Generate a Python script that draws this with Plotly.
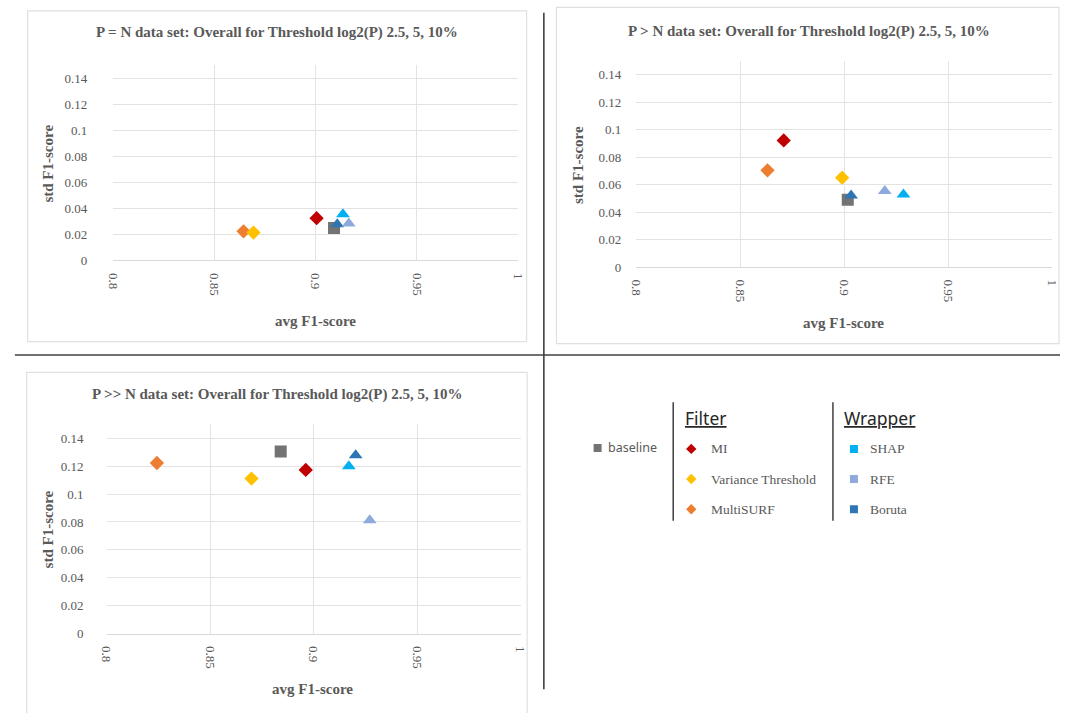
import plotly.graph_objects as go

W, H = 1068, 713

# Methods, styled as series
methods = ["baseline", "MI", "Variance Threshold", "MultiSURF", "SHAP", "RFE", "Boruta"]
colors = ["#737373", "#C00000", "#FFC000", "#ED7D31", "#00B0F0", "#8EA9DB", "#2E75B6"]
symbols = ["square", "diamond", "diamond", "diamond", "triangle-up", "triangle-up", "triangle-up"]
sizes = [12, 11, 11, 11, 12, 12, 12]
draw_order = [0, 3, 2, 1, 6, 4, 5]

# P = N data set
pn_avg = [0.9091, 0.9005, 0.8693, 0.8644, 0.9135, 0.9164, 0.9107]
pn_std = [0.0248, 0.0324, 0.0213, 0.0223, 0.0354, 0.0283, 0.0278]
# P > N data set
pgn_avg = [0.9017, 0.8709, 0.8990, 0.8631, 0.9285, 0.9195, 0.9033]
pgn_std = [0.0490, 0.0922, 0.0651, 0.0704, 0.0528, 0.0553, 0.0521]
# P >> N data set
pggn_avg = [0.8841, 0.8962, 0.8700, 0.8243, 0.9170, 0.9271, 0.9203]
pggn_std = [0.1305, 0.1173, 0.1111, 0.1223, 0.1199, 0.0813, 0.1279]

titles = [
    "P = N data set: Overall for Threshold log2(P) 2.5, 5, 10%",
    "P > N data set: Overall for Threshold log2(P) 2.5, 5, 10%",
    "P >> N data set: Overall for Threshold log2(P) 2.5, 5, 10%",
]
x_title = "avg F1-score"
y_title = "std F1-score"

x_ticks = [0.8, 0.85, 0.9, 0.95, 1.0]
x_tick_labels = ["0.8", "0.85", "0.9", "0.95", "1"]
y_ticks = [0, 0.02, 0.04, 0.06, 0.08, 0.10, 0.12, 0.14]
y_tick_labels = ["0", "0.02", "0.04", "0.06", "0.08", "0.1", "0.12", "0.14"]

filter_items = ["MI", "Variance Threshold", "MultiSURF"]
wrapper_items = ["SHAP", "RFE", "Boruta"]

# Panel layout in pixels: plot box (left, right, bottom, top), frame, title and axis-title anchors
panels = [
    dict(avg=pn_avg, std=pn_std, box=(107.7, 518.3, 263.3, 65.8), frame=(21, 11, 527, 345.5),
         title=(274, 33), xt=(313, 325), yt=(42, 165), ystand=25),
    dict(avg=pgn_avg, std=pgn_std, box=(638.3, 1060, 270, 61.8), frame=(557.3, 7.5, 1067, 347.5),
         title=(813, 32), xt=(848, 327), yt=(579, 167), ystand=14),
    dict(avg=pggn_avg, std=pggn_std, box=(101, 521, 640.7, 429.2), frame=(20, 376.7, 527.5, 725),
         title=(274, 399), xt=(310, 697), yt=(42, 535), ystand=22),
]

SERIF = "Liberation Serif, Times New Roman, serif"
SANS = "Noto Sans"
GREY = "#595959"


def px(x):
    return x / W


def py(y):
    return 1 - y / H


def label(text, x, y, size, family, color=GREY, xanchor="center", angle=0):
    return dict(text=text, x=px(x), y=py(y), xref="paper", yref="paper", showarrow=False,
                xanchor=xanchor, yanchor="middle", textangle=angle,
                font=dict(family=family, size=size, color=color))


fig = go.Figure()
annotations = []
shapes = []

for k, p in enumerate(panels):
    n = "" if k == 0 else str(k + 1)
    xa, ya = "x" + n, "y" + n
    for i in draw_order:
        fig.add_trace(go.Scatter(
            x=[p["avg"][i]], y=[p["std"][i]], mode="markers", name=methods[i],
            xaxis=xa, yaxis=ya, showlegend=False,
            marker=dict(symbol=symbols[i], size=sizes[i], color=colors[i], line=dict(width=0)),
        ))
    l, r, b, t = p["box"]
    common = dict(showgrid=True, gridcolor="#e3e3e3", gridwidth=1, zeroline=False,
                  tickfont=dict(family=SERIF, size=13, color=GREY), ticks="")
    fig.update_layout(**{
        "xaxis" + n: dict(domain=[px(l), px(r)], range=[0.8, 1.0], tickvals=x_ticks,
                          ticktext=x_tick_labels, tickangle=90, anchor=ya,
                          showline=True, linecolor="#d9d9d9", ticklabelstandoff=9, **common),
        "yaxis" + n: dict(domain=[py(b), py(t)], range=[0, 0.15], tickvals=y_ticks,
                          ticktext=y_tick_labels, anchor=xa, showline=False,
                          ticklabelstandoff=p["ystand"], **common),
    })
    fx0, fy0, fx1, fy1 = p["frame"]
    shapes.append(dict(type="rect", xref="paper", yref="paper", x0=px(fx0), x1=px(fx1),
                       y0=py(fy1), y1=py(fy0), line=dict(color="#e0e0e0", width=1.2),
                       layer="below"))
    annotations.append(label("<b>%s</b>" % titles[k], *p["title"], 15, SERIF))
    annotations.append(label("<b>%s</b>" % x_title, *p["xt"], 15, SERIF))
    annotations.append(label("<b>%s</b>" % y_title, *p["yt"], 15, SERIF, angle=-90))

# Quadrant separators
shapes.append(dict(type="line", xref="paper", yref="paper", x0=px(8), x1=px(1068),
                   y0=py(359), y1=py(359), line=dict(color="#404040", width=1.6)))
shapes.append(dict(type="line", xref="paper", yref="paper", x0=px(544.5), x1=px(544.5),
                   y0=py(13), y1=py(697), line=dict(color="#404040", width=1.6)))

# Legend block (pixel axis overlaying the page)
row_y = [454, 484.5, 515]
legend_x, legend_y, legend_c, legend_s = [599], [453], [colors[0]], ["square"]
annotations.append(label("baseline", 608, 453, 12.5, SANS, xanchor="left"))
for j, name in enumerate(filter_items):
    idx = methods.index(name)
    legend_x.append(694); legend_y.append(row_y[j]); legend_c.append(colors[idx]); legend_s.append("diamond")
    annotations.append(label(name, 712, row_y[j], 13.5, SERIF, xanchor="left"))
for j, name in enumerate(wrapper_items):
    idx = methods.index(name)
    legend_x.append(859); legend_y.append(row_y[j]); legend_c.append(colors[idx]); legend_s.append("square")
    annotations.append(label(name, 873, row_y[j], 13.5, SERIF, xanchor="left"))

fig.add_trace(go.Scatter(
    x=legend_x, y=legend_y, mode="markers", xaxis="x4", yaxis="y4", showlegend=False,
    hoverinfo="skip",
    marker=dict(symbol=legend_s, size=[8, 8, 8, 8, 8, 8, 8], color=legend_c, opacity=1,
                line=dict(width=0)),
))
fig.update_layout(
    xaxis4=dict(domain=[px(560), px(1060)], range=[560, 1060], visible=False, anchor="y4"),
    yaxis4=dict(domain=[py(540), py(400)], range=[540, 400], visible=False, anchor="x4"),
)

annotations.append(label("<u>Filter</u>", 686, 423, 17.5, SANS, color="#262626", xanchor="left"))
annotations.append(label("<u>Wrapper</u>", 847, 423, 17.5, SANS, color="#262626", xanchor="left"))
for lx in (675.7, 837.7):
    shapes.append(dict(type="line", xref="paper", yref="paper", x0=px(lx), x1=px(lx),
                       y0=py(406.7), y1=py(526.7), line=dict(color="#404040", width=1.5)))

fig.update_layout(
    width=W, height=H, margin=dict(l=0, r=0, t=0, b=0),
    paper_bgcolor="white", plot_bgcolor="rgba(0,0,0,0)",
    annotations=annotations, shapes=shapes, showlegend=False,
)

fig.write_html("out.html")
